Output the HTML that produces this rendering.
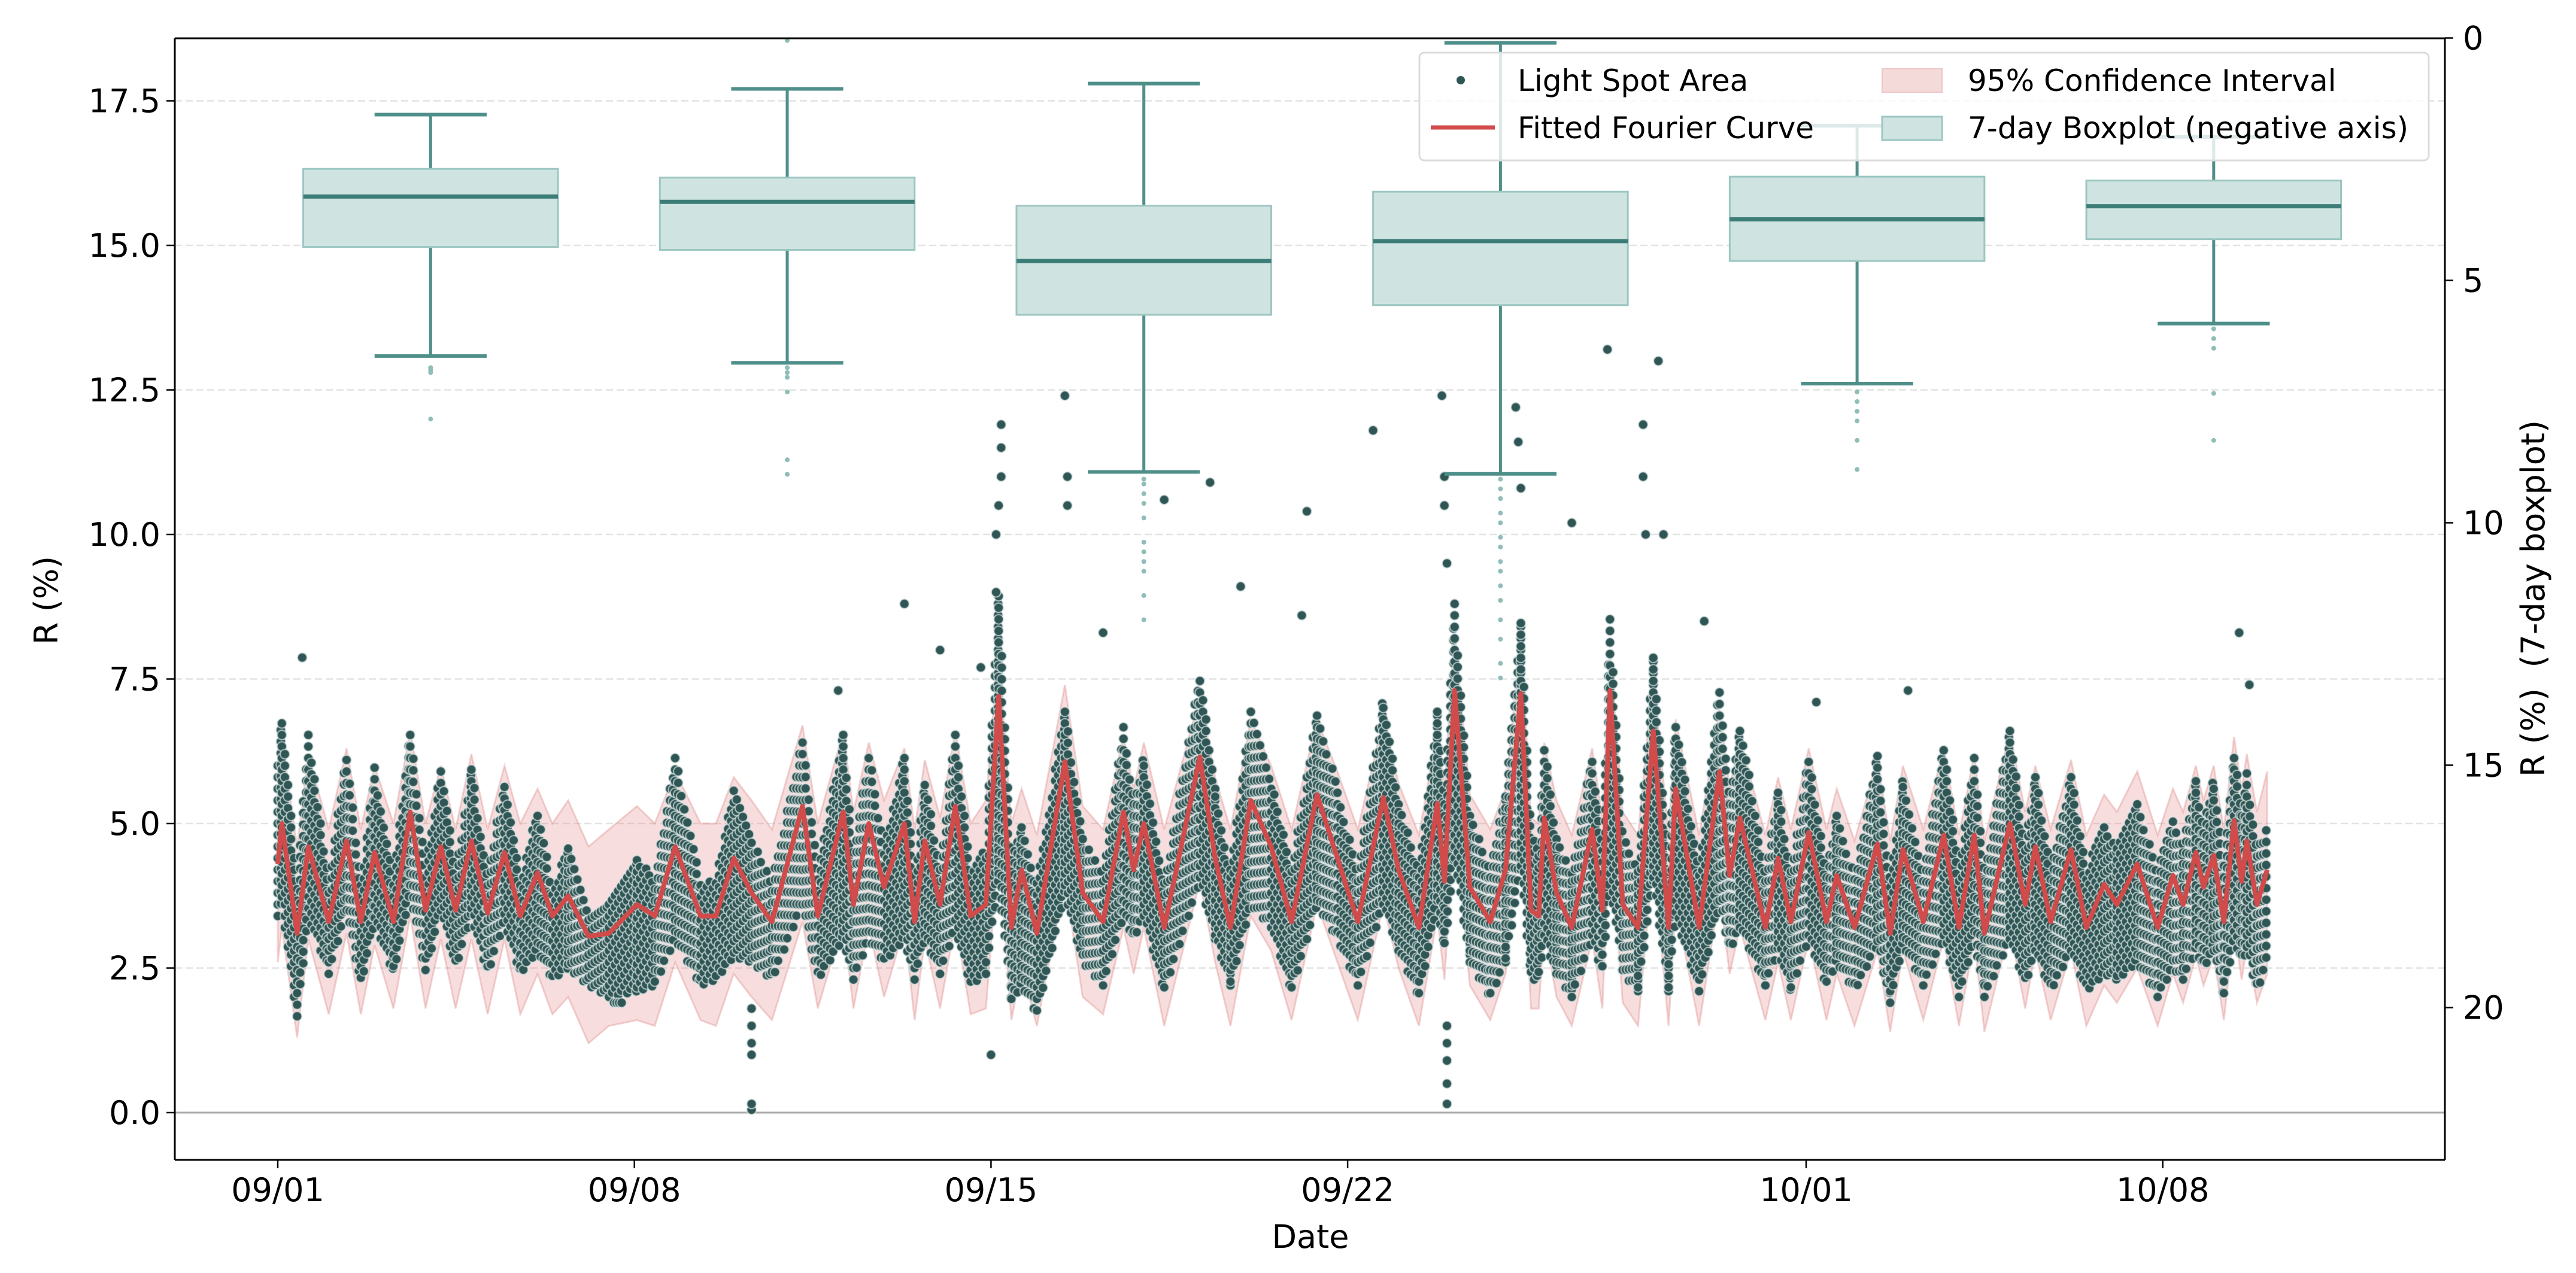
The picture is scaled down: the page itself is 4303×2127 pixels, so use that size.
<!DOCTYPE html>
<html><head><meta charset="utf-8">
<style>
html,body{margin:0;padding:0;background:#fff;}
#wrap{position:relative;width:4303px;height:2127px;overflow:hidden;font-family:"DejaVu Sans","Liberation Sans",sans-serif;}
svg,canvas{position:absolute;left:0;top:0;}
</style></head>
<body>
<div id="wrap">
<svg id="under" width="4303" height="2127"></svg>
<canvas id="scat" width="4303" height="2127"></canvas>
<svg id="over" width="4303" height="2127"></svg>
</div>
<script>
// ---- data ----
const fitDays=[0,0.08,0.38,0.6,1.0,1.35,1.63,1.9,2.27,2.6,2.9,3.2,3.49,3.8,4.12,4.45,4.76,5.1,5.39,5.7,6.1,6.5,7.05,7.4,7.8,8.3,8.6,8.95,9.3,9.7,10.3,10.6,11.1,11.3,11.6,11.9,12.3,12.5,12.7,13.0,13.3,13.6,13.9,14.15,14.4,14.6,14.9,15.45,15.8,16.2,16.6,16.8,17.0,17.4,18.1,18.4,18.7,19.1,19.5,19.9,20.4,20.8,21.2,21.7,22.0,22.4,22.76,22.9,23.1,23.4,23.8,24.1,24.4,24.6,24.75,24.86,25.1,25.4,25.8,26.0,26.15,26.4,26.7,27.0,27.3,27.44,27.9,28.3,28.5,28.7,29.2,29.45,29.7,30.05,30.4,30.6,30.95,31.4,31.65,31.9,32.3,32.7,33.0,33.3,33.5,34.0,34.3,34.5,34.8,35.2,35.5,35.85,36.1,36.5,36.9,37.2,37.4,37.65,37.8,38.0,38.2,38.4,38.55,38.65,38.85,39.05];
const fitVals=[4.3,5.0,3.1,4.6,3.3,4.7,3.3,4.5,3.3,5.2,3.5,4.6,3.5,4.7,3.45,4.5,3.4,4.15,3.4,3.75,3.05,3.1,3.6,3.4,4.6,3.4,3.4,4.4,3.8,3.3,5.3,3.4,5.2,3.6,5.0,3.9,5.0,3.3,4.7,3.6,5.3,3.4,3.6,7.2,3.2,4.2,3.1,6.07,3.8,3.3,5.2,4.2,5.0,3.2,6.15,4.4,3.2,5.4,4.6,3.3,5.5,4.4,3.3,5.45,4.2,3.2,5.35,4.0,7.3,3.9,3.3,4.2,7.25,3.5,3.4,5.1,3.8,3.2,4.9,3.5,7.3,3.6,3.2,6.6,3.2,5.6,3.2,5.9,4.1,5.1,3.2,4.4,3.3,4.85,3.3,4.1,3.2,4.65,3.1,4.55,3.3,4.8,3.2,4.8,3.1,5.0,3.6,4.6,3.3,4.55,3.2,3.95,3.6,4.3,3.2,4.1,3.6,4.5,3.9,4.45,3.3,5.05,4.0,4.7,3.6,4.2];
const ciLower=[2.6,3.2,1.3,3.0,1.7,3.1,1.7,2.9,1.8,3.4,1.8,3.0,1.8,3.0,1.7,3.0,1.7,2.4,1.7,2.0,1.2,1.5,1.6,1.5,2.6,1.6,1.5,2.4,2.0,1.6,3.3,1.8,3.3,1.8,3.2,2.0,3.2,1.6,3.0,1.8,3.3,1.7,1.8,4.6,1.6,2.5,1.5,4.0,2.0,1.7,3.2,2.4,3.2,1.5,4.0,2.6,1.5,3.4,2.8,1.6,3.6,2.6,1.6,3.6,2.5,1.5,3.4,2.3,5.0,2.2,1.6,2.4,5.0,1.8,1.8,3.2,2.0,1.5,3.0,1.8,5.0,1.9,1.5,4.4,1.5,3.6,1.5,3.8,2.4,3.2,1.6,2.6,1.6,3.0,1.6,2.4,1.5,2.8,1.4,2.8,1.6,3.0,1.5,3.0,1.4,3.2,1.8,2.8,1.6,2.8,1.5,2.2,1.9,2.5,1.5,2.4,1.9,2.7,2.2,2.7,1.6,3.2,2.3,2.9,1.9,2.4];
const ciUpper=[5.6,6.5,4.6,6.2,4.9,6.3,4.9,6.0,5.0,6.6,5.0,6.0,4.9,6.2,4.9,6.0,5.0,5.6,5.0,5.4,4.6,4.9,5.3,5.0,5.9,5.0,5.0,5.8,5.4,4.9,6.7,5.0,6.6,5.2,6.4,5.4,6.3,4.9,6.1,5.1,6.6,5.0,5.4,8.0,5.0,5.6,4.8,7.4,5.3,4.9,6.5,5.6,6.4,4.9,7.2,5.8,4.9,6.8,6.0,4.9,6.8,5.9,4.9,6.8,5.7,4.8,6.6,5.6,8.3,5.5,4.9,5.6,8.2,5.1,5.0,6.4,5.4,4.8,6.3,5.1,8.0,5.2,4.8,7.6,4.8,6.8,4.8,7.0,5.6,6.5,4.8,5.8,4.9,6.3,4.9,5.6,4.7,6.1,4.7,6.0,4.9,6.3,4.8,6.2,4.7,6.6,5.2,6.0,4.9,6.1,4.8,5.5,5.2,5.9,4.8,5.6,5.2,6.0,5.4,6.0,4.9,6.5,5.6,6.2,5.2,5.9];
const scatterLow=[3.4,3.6,1.6,3.4,2.4,3.5,2.2,3.3,2.4,3.8,2.4,3.5,2.5,3.4,2.4,3.3,2.4,2.8,2.3,2.5,2.2,2.0,2.1,2.2,3.0,2.2,2.3,2.7,2.6,2.3,3.6,2.3,3.0,2.3,3.0,2.6,3.0,2.3,3.0,2.4,3.2,2.2,2.4,4.0,1.9,2.2,1.7,3.8,2.6,2.2,3.4,3.0,3.4,2.1,4.0,3.0,2.2,3.6,3.2,2.1,3.6,3.0,2.2,3.6,2.8,2.0,3.6,2.8,4.4,2.6,2.0,2.6,4.2,2.3,2.3,3.0,2.4,2.0,3.0,2.4,4.0,2.4,2.1,4.0,2.1,3.4,2.1,3.6,2.8,3.2,2.2,2.8,2.1,3.0,2.2,2.6,2.1,2.9,1.9,2.9,2.2,3.0,2.0,3.0,2.0,3.0,2.2,2.8,2.1,2.8,2.1,2.4,2.3,2.6,2.0,2.5,2.3,2.8,2.5,2.8,2.0,3.0,2.6,2.8,2.1,2.6];
const scatterHigh=[6.2,6.9,4.0,6.6,4.0,6.3,4.0,6.0,4.0,6.7,4.2,6.0,4.2,6.0,4.1,5.8,4.0,5.3,3.9,4.6,3.5,3.7,4.5,4.0,6.2,4.0,4.1,5.6,4.8,4.0,6.5,4.2,6.6,4.4,6.3,4.6,6.2,4.0,5.8,4.3,6.6,4.2,4.6,9.0,4.5,5.0,4.0,7.0,4.8,4.2,6.7,5.4,6.2,4.0,7.6,5.6,4.2,7.0,5.8,4.2,7.0,5.6,4.2,7.2,5.4,4.2,7.0,5.4,8.8,5.2,4.2,5.6,8.6,4.8,4.6,6.4,4.8,4.2,6.2,4.6,8.6,4.8,4.2,8.0,4.2,6.8,4.2,7.4,5.4,6.8,4.2,5.6,4.2,6.2,4.2,5.2,4.1,6.2,4.0,5.8,4.2,6.4,4.2,6.2,4.1,6.7,4.6,5.9,4.2,5.9,4.2,5.0,4.6,5.4,4.2,5.2,4.6,5.8,5.0,5.8,4.3,6.3,5.2,5.9,4.6,5.0];
const outlierDays=[0.48,6.6,6.65,6.7,6.75,9.3,9.3,9.3,9.3,9.3,9.3,11.0,12.3,13.0,13.8,14.1,14.1,14.15,14.2,14.2,14.2,14.0,15.45,15.5,15.5,16.2,17.4,18.3,18.9,20.1,20.2,21.5,22.85,22.9,22.9,22.95,22.95,22.95,22.95,22.95,22.95,24.3,24.35,24.4,25.4,26.1,26.8,26.8,26.85,27.1,27.2,28.0,30.2,32.0,38.5,38.7];
const outlierVals=[7.87,1.9,1.9,1.9,1.9,0.05,0.15,1.0,1.2,1.5,1.8,7.3,8.8,8.0,7.7,9.0,10.0,10.5,11.0,11.5,11.9,1.0,12.4,11.0,10.5,8.3,10.6,10.9,9.1,8.6,10.4,11.8,12.4,11.0,10.5,1.5,1.2,0.9,0.5,0.15,9.5,12.2,11.6,10.8,10.2,13.2,11.9,11.0,10.0,13.0,10.0,8.5,7.1,7.3,8.3,7.4];
// boxplots (right axis, inverted)
const boxDays=[3,10,17,24,31,38];
const boxWhiskerTop=[1.58,1.05,0.94,0.1,1.81,2.04];
const boxQ1=[2.70,2.88,3.46,3.17,2.86,2.94];
const boxMedian=[3.27,3.38,4.6,4.19,3.74,3.47];
const boxQ3=[4.31,4.37,5.71,5.51,4.6,4.15];
const boxWhiskerBottom=[6.56,6.7,8.95,8.99,7.13,5.89];
const boxFliers=[[6.8,6.85,6.9,7.86],[0.05,6.8,6.9,7.0,7.3,8.7,9.0],[9.1,9.2,9.4,9.6,9.9,10.4,10.6,10.8,11.0,11.5,12.0],[9.1,9.3,9.5,9.8,10.0,10.3,10.5,10.8,11.0,11.3,11.6,12.0,12.4,12.9,13.2],[7.3,7.5,7.7,7.9,8.3,8.9],[6.0,6.2,6.4,7.33,8.3]];
const xTickDays=[0,7,14,21,30,37];
const xTickLabels=["09/01","09/08","09/15","09/22","10/01","10/08"];
const yTicksLeft=[0,2.5,5,7.5,10,12.5,15,17.5];
const yTicksLeftLabels=["0.0","2.5","5.0","7.5","10.0","12.5","15.0","17.5"];
const yTicksRight=[0,5,10,15,20];
const yTicksRightLabels=["0","5","10","15","20"];

// ---- scales ----
const AX={l:292,r:4084,t:64,b:1938};
const xS=d=>464+d*85.1;
const yL=v=>1859-v*96.6;
const yR=r=>63.5+r*81;
const NS="http://www.w3.org/2000/svg";
function mk(parent,tag,attrs){const e=document.createElementNS(NS,tag);for(const k in attrs)e.setAttribute(k,attrs[k]);parent.appendChild(e);return e;}
const under=document.getElementById('under');
const over=document.getElementById('over');

yTicksLeft.forEach(v=>{
  const g=mk(under,'line',{x1:AX.l,x2:AX.r,y1:yL(v),y2:yL(v),stroke:'#e3e3e3','stroke-width':2.5,'stroke-dasharray':'12 6'});
  
  
});
const zl=mk(under,'line',{x1:AX.l,x2:AX.r,y1:yL(0),y2:yL(0),stroke:'#aaaaaa','stroke-width':3});



let up='',lo='';
fitDays.forEach((d,i)=>{up+=(i?'L':'M')+xS(d).toFixed(1)+','+yL(ciUpper[i]).toFixed(1);});
for(let i=fitDays.length-1;i>=0;i--){lo+='L'+xS(fitDays[i]).toFixed(1)+','+yL(ciLower[i]).toFixed(1);}
const ci=mk(under,'path',{d:up+lo+'Z',fill:'rgba(222,120,120,0.25)',stroke:'rgba(220,130,130,0.35)','stroke-width':3});



const cv=document.getElementById('scat');
const ctx=cv.getContext('2d');
ctx.save();ctx.beginPath();ctx.rect(AX.l,AX.t,AX.r-AX.l,AX.b-AX.t);ctx.clip();
function dot(x,y,r){ctx.beginPath();ctx.arc(x,y,r,0,Math.PI*2);ctx.fill();ctx.stroke();}
ctx.fillStyle='#2f5654';ctx.strokeStyle='rgba(225,235,235,0.8)';ctx.lineWidth=1.8;
let col=0;
for(let i=0;i<fitDays.length-1;i++){
  const d0=fitDays[i],d1=fitDays[i+1];
  for(let t=d0;t<d1;t+=0.06){
    const f=(t-d0)/(d1-d0);
    const l=scatterLow[i]+(scatterLow[i+1]-scatterLow[i])*f;
    const h=scatterHigh[i]+(scatterHigh[i+1]-scatterHigh[i])*f;
    const off=(col%3)*0.066;col++;
    for(let v=l+off;v<=h;v+=0.2){dot(xS(t),yL(v),8);}
  }
}
for(let i=0;i<outlierDays.length;i++){dot(xS(outlierDays[i]),yL(outlierVals[i]),8);}
ctx.restore();

let fp='';
fitDays.forEach((d,i)=>{fp+=(i?'L':'M')+xS(d).toFixed(1)+','+yL(fitVals[i]).toFixed(1);});
const fl=mk(over,'path',{d:fp,fill:'none',stroke:'#d14b4b','stroke-width':8,'stroke-linejoin':'round'});



const teal='#4f8f8a';
boxDays.forEach((d,i)=>{
  const g=mk(over,'g',{});
  
  
  const cx=xS(d),hw=2.5*85.1,cw=1.1*85.1;
  mk(g,'line',{x1:cx,x2:cx,y1:yR(boxWhiskerTop[i]),y2:yR(boxQ1[i]),stroke:teal,'stroke-width':5});
  mk(g,'line',{x1:cx,x2:cx,y1:yR(boxQ3[i]),y2:yR(boxWhiskerBottom[i]),stroke:teal,'stroke-width':5});
  mk(g,'line',{x1:cx-cw,x2:cx+cw,y1:yR(boxWhiskerTop[i]),y2:yR(boxWhiskerTop[i]),stroke:teal,'stroke-width':6});
  mk(g,'line',{x1:cx-cw,x2:cx+cw,y1:yR(boxWhiskerBottom[i]),y2:yR(boxWhiskerBottom[i]),stroke:teal,'stroke-width':6});
  mk(g,'rect',{x:cx-hw,y:yR(boxQ1[i]),width:2*hw,height:yR(boxQ3[i])-yR(boxQ1[i]),fill:'#cfe4e1',stroke:'#9cc6c1','stroke-width':3});
  mk(g,'line',{x1:cx-hw,x2:cx+hw,y1:yR(boxMedian[i]),y2:yR(boxMedian[i]),stroke:'#3d7d77','stroke-width':7});
  boxFliers[i].forEach(v=>{mk(g,'circle',{cx:cx,cy:yR(v),r:4,fill:'#8fbdb7'});});
});

[[AX.l,AX.t,AX.r,AX.t,'top-spine'],[AX.l,AX.b,AX.r,AX.b,'bottom-spine'],[AX.l,AX.t,AX.l,AX.b,'left-spine'],[AX.r,AX.t,AX.r,AX.b,'right-spine']].forEach(s=>{
  const e=mk(over,'line',{x1:s[0],y1:s[1],x2:s[2],y2:s[3],stroke:'#000','stroke-width':3});
  
  
});
xTickDays.forEach((d,i)=>{
  mk(over,'line',{x1:xS(d),x2:xS(d),y1:AX.b,y2:AX.b+14,stroke:'#000','stroke-width':2.5});
  const t=mk(over,'text',{x:xS(d),y:2007,'text-anchor':'middle','font-size':54,fill:'#000'});
  t.textContent=xTickLabels[i];
  
  
});
yTicksLeft.forEach((v,i)=>{
  mk(over,'line',{x1:AX.l-14,x2:AX.l,y1:yL(v),y2:yL(v),stroke:'#000','stroke-width':2.5});
  const t=mk(over,'text',{x:AX.l-24,y:yL(v)+19,'text-anchor':'end','font-size':54,fill:'#000'});
  t.textContent=yTicksLeftLabels[i];
  
  
});
yTicksRight.forEach((v,i)=>{
  mk(over,'line',{x1:AX.r,x2:AX.r+14,y1:yR(v),y2:yR(v),stroke:'#000','stroke-width':2.5});
  const t=mk(over,'text',{x:AX.r+30,y:yR(v)+19,'text-anchor':'start','font-size':54,fill:'#000'});
  t.textContent=yTicksRightLabels[i];
  
  
});
</script>
<svg width="4303" height="2127" style="position:absolute;left:0;top:0">
  <text x="2189" y="2085" text-anchor="middle" font-size="54" font-family="DejaVu Sans, Liberation Sans, sans-serif">Date</text>
  <text transform="translate(96,1003) rotate(-90)" text-anchor="middle" font-size="54" font-family="DejaVu Sans, Liberation Sans, sans-serif">R (%)</text>
  <text transform="translate(4250,1000) rotate(-90)" text-anchor="middle" font-size="54" font-family="DejaVu Sans, Liberation Sans, sans-serif" xml:space="preserve">R (%)  (7-day boxplot)</text>
  <g font-family="DejaVu Sans, Liberation Sans, sans-serif" font-size="50">
    <rect x="2371" y="88" width="1686" height="180" rx="8" fill="rgba(255,255,255,0.8)" stroke="#dcdcdc" stroke-width="3"/>
    <circle cx="2440" cy="134" r="7" fill="#2f5654"/>
    <text x="2535" y="152">Light Spot Area</text>
    <line x1="2390" x2="2497" y1="213" y2="213" stroke="#d14b4b" stroke-width="7"/>
    <text x="2535" y="231">Fitted Fourier Curve</text>
    <rect x="3144" y="115" width="100" height="39" fill="#f5dada" stroke="#efc5c5" stroke-width="2"/>
    <text x="3287" y="152">95% Confidence Interval</text>
    <rect x="3144" y="195" width="100" height="39" fill="#cfe4e1" stroke="#9cc6c1" stroke-width="3"/>
    <text x="3287" y="231">7-day Boxplot (negative axis)</text>
  </g>
</svg>
</body></html>
